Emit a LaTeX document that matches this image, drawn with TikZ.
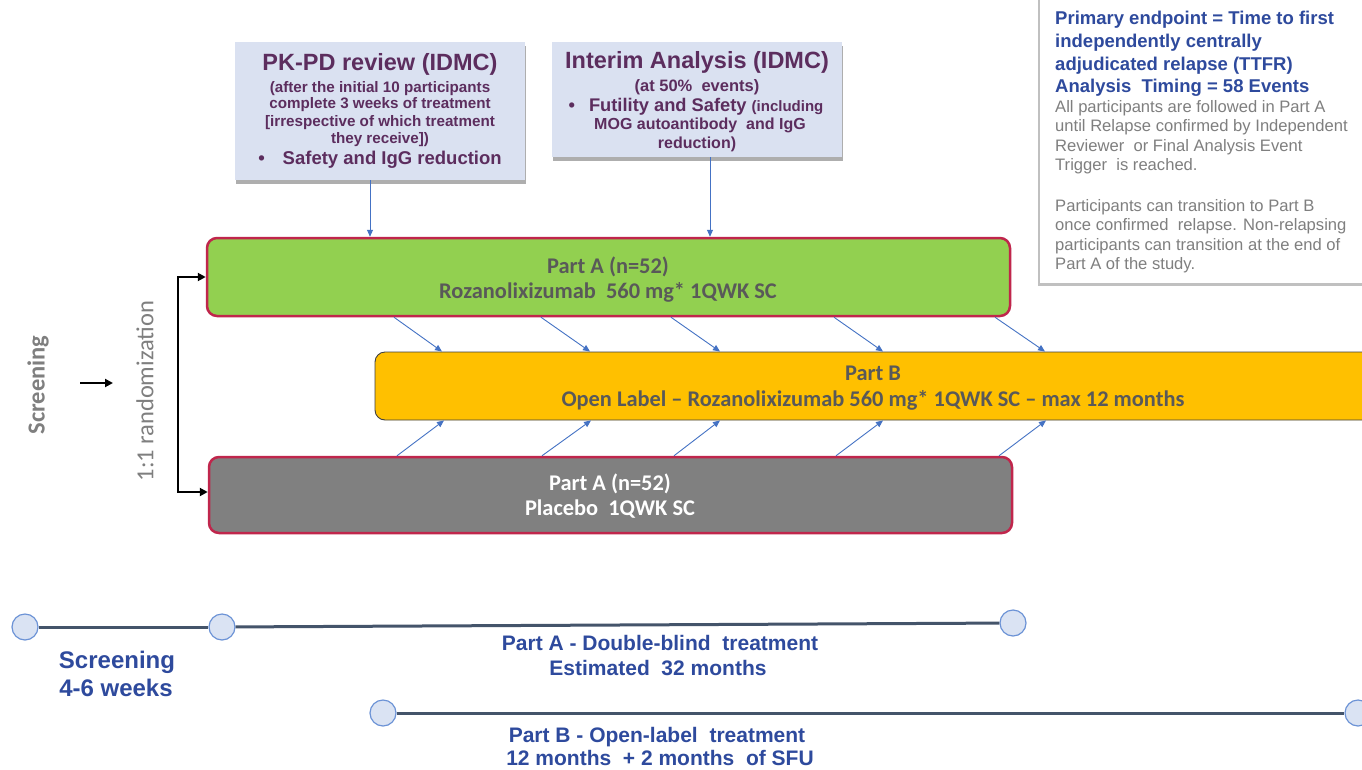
\documentclass[tikz,border=0pt]{standalone}
\usepackage{fontspec}
\setmainfont{Liberation Sans}
\newfontfamily\calib[Ligatures=TeX]{Carlito}
\usetikzlibrary{shadows,arrows.meta}
\definecolor{lav}{HTML}{DAE1F1}
\definecolor{purp}{HTML}{5C2D5E}
\definecolor{crim}{HTML}{C0264C}
\definecolor{grn}{HTML}{92D050}
\definecolor{org}{HTML}{FFC000}
\definecolor{gry}{HTML}{808080}
\definecolor{dgry}{HTML}{595959}
\definecolor{navy}{HTML}{2E4A9D}
\definecolor{tgry}{HTML}{7F7F7F}
\definecolor{arrb}{HTML}{4472C4}
\definecolor{tl}{HTML}{44546A}
\definecolor{circf}{HTML}{DAE3F3}
\definecolor{circd}{HTML}{6C93D6}
\newcommand\fsz[1]{\fontsize{#1}{#1}\selectfont}
\begin{document}
\begin{tikzpicture}[x=1pt,y=-1pt,
  infobox/.style={rectangle, fill=lav, draw=none, inner sep=0pt,
    drop shadow={shadow xshift=1pt, shadow yshift=-4pt, opacity=0.45, fill=black!70}},
  notebox/.style={rectangle, fill=white, draw=none, inner sep=0pt,
    drop shadow={shadow xshift=-2pt, shadow yshift=-3pt, opacity=0.35, fill=black!70}},
  armA/.style={rectangle, rounded corners=10pt, draw=crim, line width=2.5pt, inner sep=0pt},
  armB/.style={rectangle, rounded corners=10pt, draw=black!75, line width=0.9pt, fill=org, inner sep=0pt},
  ptxt/.style={text=purp, inner sep=0pt, anchor=base},
  btxt/.style={text=dgry, inner sep=0pt, anchor=base, font=\calib\fsz{22.4}\bfseries},
  wtxt/.style={text=white, inner sep=0pt, anchor=base, font=\calib\fsz{22.4}\bfseries},
  ntxt/.style={text=navy, inner sep=0pt, anchor=base west, font=\fsz{18.5}\bfseries},
  gtxt/.style={text=tgry, inner sep=0pt, anchor=base west, font=\fsz{16.6}},
  ltxt/.style={text=navy, inner sep=0pt, anchor=base, font=\fsz{21}\bfseries},
  barr/.style={draw=arrb, line width=0.9pt, -{Triangle[width=6pt,length=7pt]}},
  karr/.style={draw=black, line width=2pt, -{Triangle[width=8pt,length=8pt]}},
  tc/.style={circle, minimum size=26pt, inner sep=0pt, fill=circf, draw=circd, line width=1.2pt},
  tline/.style={draw=tl, line width=3pt}
]
\useasboundingbox (0,0) rectangle (1362,769);
\fill[white] (0,0) rectangle (1362,769);
\clip (0,0) rectangle (1362,769);

% top info boxes
\node[infobox, minimum width=290pt, minimum height=138pt] (pk) at (380,111) {};
\node[infobox, minimum width=290pt, minimum height=115pt] (ia) at (697,99.5) {};
\node[notebox, minimum width=330pt, minimum height=290pt, anchor=north west] (rb) at (1040,-7) {};

\node[ptxt, font=\fsz{23.5}\bfseries] (pk1) at (380,70) {PK-PD review (IDMC)};
\node[ptxt, font=\fsz{15.2}\bfseries] (pk2) at (380,92) {(after the initial 10 participants};
\node[ptxt, font=\fsz{15.2}\bfseries] (pk3) at (380,108) {complete 3 weeks of treatment};
\node[ptxt, font=\fsz{15.2}\bfseries] (pk4) at (380,126) {[irrespective of which treatment};
\node[ptxt, font=\fsz{15.2}\bfseries] (pk5) at (380,143) {they receive])};
\node[ptxt, font=\fsz{18.5}\bfseries] (pk6) at (380,164) {\textbullet\hspace{18pt}Safety and IgG reduction};

\node[ptxt, font=\fsz{23.5}\bfseries] (ia1) at (697,68) {Interim Analysis (IDMC)};
\node[ptxt, font=\fsz{16.5}\bfseries] (ia2) at (697,91.5) {(at 50\%\ \ events)};
\node[ptxt, font=\fsz{18.3}\bfseries] (ia3) at (696,111) {\textbullet\hspace{14pt}Futility and Safety {\fsz{15}(including}};
\node[ptxt, font=\fsz{16}\bfseries] (ia4) at (700,129.5) {MOG autoantibody\ \ and IgG};
\node[ptxt, font=\fsz{16}\bfseries] (ia5) at (697,148.5) {reduction)};

% right note
\node[ntxt] (r1) at (1055,24.5) {Primary endpoint = Time to first};
\node[ntxt] (r2) at (1055,47.5) {independently centrally};
\node[ntxt] (r3) at (1055,70.5) {adjudicated relapse (TTFR)};
\node[ntxt] (r4) at (1055,92.5) {Analysis\ \ Timing = 58 Events};
\node[gtxt] (r5) at (1055,112) {All participants are followed in Part A};
\node[gtxt] (r6) at (1055,131.5) {until Relapse confirmed by Independent};
\node[gtxt] (r7) at (1055,151) {Reviewer\ \ or Final Analysis Event};
\node[gtxt] (r8) at (1055,170.5) {Trigger\ \ is reached.};
\node[gtxt] (r9) at (1055,211) {Participants can transition to Part B};
\node[gtxt] (r10) at (1055,230.5) {once confirmed\ \ relapse. Non-relapsing};
\node[gtxt] (r11) at (1055,250) {participants can transition at the end of};
\node[gtxt] (r12) at (1055,269.5) {Part A of the study.};

% arms
\node[armA, fill=grn, minimum width=803pt, minimum height=78pt] (ga) at (608.5,277) {};
\node[armB, minimum width=1005pt, minimum height=68pt] (pb) at (877.5,386) {};
\node[armA, fill=gry, minimum width=803pt, minimum height=76pt] (pl) at (610.5,495) {};

\node[btxt] (ga1) at (608,273) {Part A (n=52)};
\node[btxt] (ga2) at (608,298) {Rozanolixizumab\ \ 560 mg* 1QWK SC};
\node[btxt] (pb1) at (873,380) {Part B};
\node[btxt] (pb2) at (873,406) {Open Label – Rozanolixizumab 560 mg* 1QWK SC – max 12 months};
\node[wtxt] (pl1) at (610,490) {Part A (n=52)};
\node[wtxt] (pl2) at (610,515) {Placebo\ \ 1QWK SC};

% review arrows
\draw[barr] ([xshift=-10pt]pk.south) -- ([xshift=-10pt]pk.south |- ga.north);
\draw[barr] ([xshift=13pt]ia.south) -- ([xshift=13pt]ia.south |- ga.north);

% transitions
\foreach \a/\b in {394/442, 541/590, 671/720, 834/883, 995/1045}
  \draw[barr] (ga.south -| \a,0) -- (pb.north -| \b,0);
\foreach \a/\b in {397/444, 542/591, 674/720, 836/883, 999/1046}
  \draw[barr] (pl.north -| \a,0) -- (pb.south -| \b,0);

% left side
\node[text=tgry, rotate=90, inner sep=0pt, font=\calib\fsz{24.5}\bfseries] (scr) at (38,385) {Screening};
\node[text=tgry, rotate=90, inner sep=0pt, font=\calib\fsz{24.5}] (rnd) at (145,391) {1:1 randomization};
\coordinate (sa) at (80,383);
\coordinate (sb) at (113,383);
\draw[karr] (sa) -- (sb);
\coordinate (bt) at (178,277);
\coordinate (bb) at (178,492);
\draw[karr, {Triangle[width=8pt,length=8pt]}-{Triangle[width=8pt,length=8pt]}] (bt -| ga.west) -- (bt) -- (bb) -- (bb -| pl.west);

% timeline
\node[tc] (c1) at (25,627) {};
\node[tc] (c2) at (222,627) {};
\node[tc] (c3) at (1013,623) {};
\node[tc] (c4) at (383,713) {};
\node[tc] (c5) at (1358,713) {};
\draw[tline] (c1) -- (c2);
\draw[tline] (c2) -- (c3);
\draw[tline] (c4) -- (c5);

\node[ltxt, font=\fsz{24}\bfseries] (t1) at (117,668) {Screening};
\node[ltxt, font=\fsz{24}\bfseries] (t2) at (116,696) {4-6 weeks};
\node[ltxt] (t3) at (660,650) {Part A - Double-blind\ \ treatment};
\node[ltxt] (t4) at (658,675) {Estimated\ \ 32 months};
\node[ltxt] (t5) at (657,742) {Part B - Open-label\ \ treatment};
\node[ltxt] (t6) at (660,765) {12 months\ \ + 2 months\ \ of SFU};
\end{tikzpicture}
\end{document}
